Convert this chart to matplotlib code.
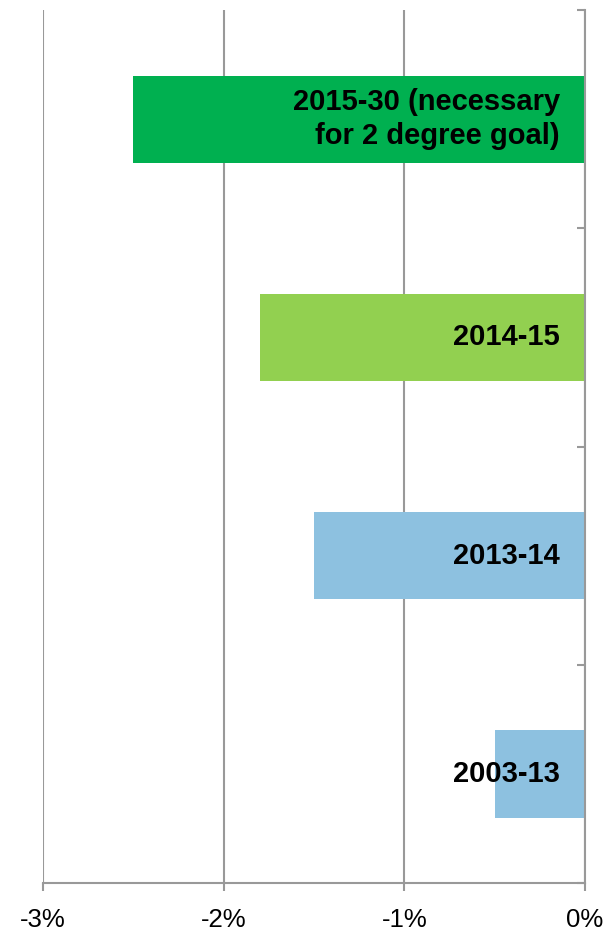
import matplotlib.pyplot as plt
import numpy as np
from matplotlib.ticker import FuncFormatter

plt.rcParams['font.family'] = ['Liberation Sans', 'DejaVu Sans']

# data (bottom to top)
periods = ['2003-13', '2013-14', '2014-15', '2015-30 (necessary\nfor 2 degree goal)']
values = [-0.5, -1.5, -1.8, -2.5]
colors = ['#8DC1E0', '#8DC1E0', '#92D050', '#00B050']
x_ticks = [-3, -2, -1, 0]

fig = plt.figure(figsize=(6.15, 9.38), dpi=100)
ax = fig.add_axes([0.0699, 0.0586, 0.8813, 0.9307])

y = np.arange(len(periods))
ax.barh(y, values, height=0.4, color=colors, zorder=2)

for yi, v, lab in zip(y, values, periods):
    ax.annotate(lab, xy=(0, yi), xytext=(-18, 0), textcoords='offset points',
                ha='right', va='center', fontsize=21, fontweight='bold',
                color='black', zorder=3, multialignment='right', linespacing=1.25)

ax.set_xlim(-3, 0)
ax.set_ylim(-0.5, 3.5)
ax.set_xticks(x_ticks)
ax.xaxis.set_major_formatter(FuncFormatter(lambda v, p: '%d%%' % v))
ax.tick_params(axis='x', direction='out', length=6, width=1.5, color='#999999',
               labelsize=18.5, pad=12)

ax.yaxis.tick_right()
ax.set_yticks([-0.5, 0.5, 1.5, 2.5, 3.5])
ax.set_yticklabels([])
ax.tick_params(axis='y', direction='in', length=6, width=1.5, color='#999999')

ax.xaxis.grid(True, color='#999999', linewidth=1.5, zorder=0)
ax.set_axisbelow(True)

ax.spines['top'].set_visible(False)
ax.spines['left'].set_visible(False)
for s in ['bottom', 'right']:
    ax.spines[s].set_color('#999999')
    ax.spines[s].set_linewidth(1.5)

fig.savefig('out.png', dpi=100)
